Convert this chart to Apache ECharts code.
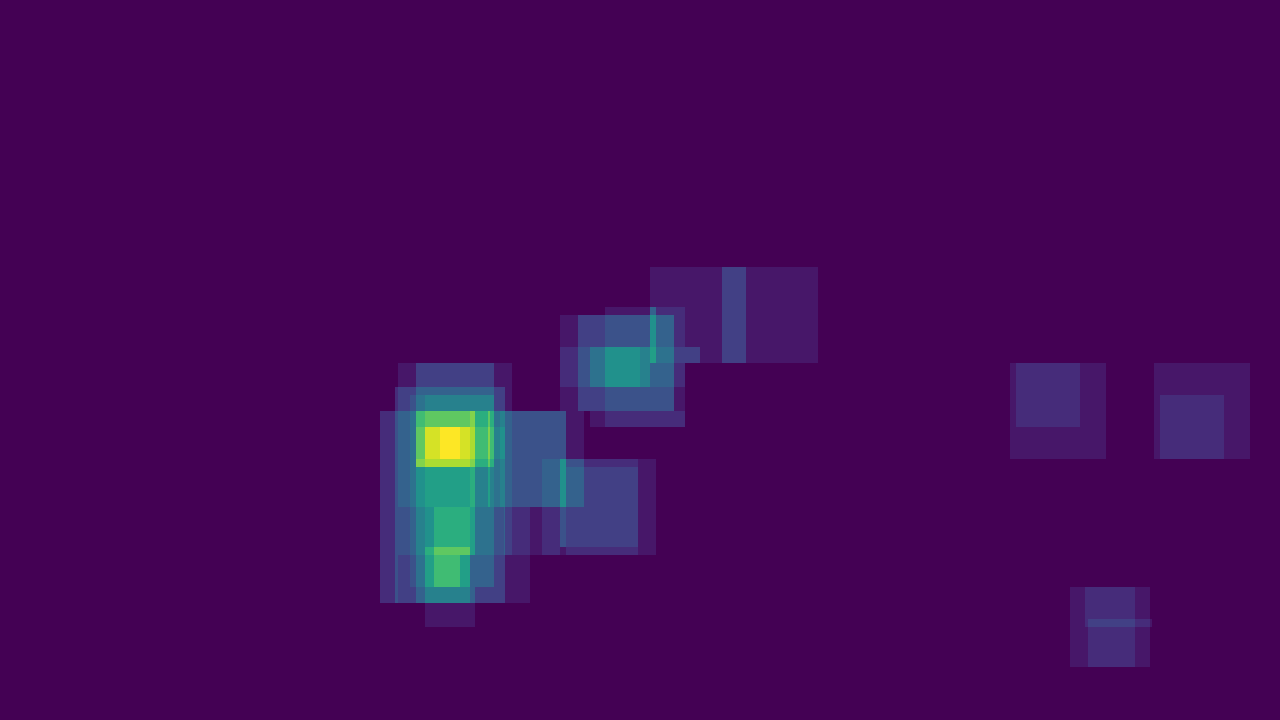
<!DOCTYPE html>
<html><head><meta charset="utf-8">
<script src="https://cdn.jsdelivr.net/npm/echarts@6/dist/echarts.min.js"></script>
<style>html,body{margin:0;padding:0;background:#440154;overflow:hidden}#c{width:1280px;height:720px}</style>
</head><body><div id="c"></div>
<script>
// Boxes (image coordinates) and their weights
const boxX0 = [398,416,395,425,410,380,500,512,494,416,416,425,440,488,470,470,416,434,425,425,425,380,380,425,
               542,566,566,560,566,504,
               650,722,605,560,578,560,685,590,605,650,590,
               1010,1016,1154,1160,1070,1085,1088,1088];
const boxX1 = [512,494,505,494,425,566,584,566,512,470,505,470,460,490,494,475,470,470,475,470,460,530,398,475,
               656,638,638,566,584,560,
               818,746,685,674,674,685,700,650,640,656,685,
               1106,1080,1250,1224,1150,1135,1135,1152];
const boxY0 = [363,363,387,395,395,411,411,411,411,411,427,427,427,411,411,411,459,507,587,547,555,507,507,603,
               459,459,467,459,459,507,
               267,267,307,315,315,347,347,347,347,307,411,
               363,363,363,395,587,587,627,619];
const boxY1 = [555,467,603,587,587,507,507,507,507,467,459,459,459,507,467,555,603,587,603,555,587,603,603,627,
               555,555,547,547,507,555,
               363,363,427,411,411,387,363,387,387,363,427,
               459,427,459,459,667,627,667,627];
const boxW  = [1,2,2,2,1,2,1,1,1,3,1,2,1,2,1,3,2,2,2,2,2,1,1,1,
               1,1,1,3,1,1,
               1,2,1,1,2,1,2,2,1,3,1,
               1,1,1,1,1,1,1,1];
const valueMax = 16;

// accumulate box weights on the grid made by all box edges
const xs = Array.from(new Set(boxX0.concat(boxX1))).sort((a,b)=>a-b);
const ys = Array.from(new Set(boxY0.concat(boxY1))).sort((a,b)=>a-b);
const cells = [];
for (let i = 0; i < xs.length - 1; i++) {
  for (let j = 0; j < ys.length - 1; j++) {
    const cx = (xs[i] + xs[i+1]) / 2, cy = (ys[j] + ys[j+1]) / 2;
    let v = 0;
    for (let k = 0; k < boxX0.length; k++) {
      if (cx > boxX0[k] && cx < boxX1[k] && cy > boxY0[k] && cy < boxY1[k]) v += boxW[k];
    }
    if (v > 0) cells.push([xs[i], xs[i+1], ys[j], ys[j+1], Math.min(v, valueMax)]);
  }
}

const chart = echarts.init(document.getElementById('c'), null, {renderer: 'canvas'});
chart.setOption({
  backgroundColor: '#440154',
  animation: false,
  grid: {left: 0, right: 0, top: 0, bottom: 0},
  xAxis: {type: 'value', min: 0, max: 1280, show: false},
  yAxis: {type: 'value', min: 0, max: 720, inverse: true, show: false},
  visualMap: {
    show: false, type: 'continuous', dimension: 4, min: 0, max: valueMax,
    inRange: {color: ['#440154','#482475','#414487','#355f8d','#2a788e','#21918c','#22a884','#44bf70','#7ad151','#bddf26','#fde725']}
  },
  series: [{
    type: 'custom',
    data: cells,
    encode: {x: [0,1], y: [2,3]},
    renderItem: function (params, api) {
      const p0 = api.coord([api.value(0), api.value(2)]);
      const p1 = api.coord([api.value(1), api.value(3)]);
      return {
        type: 'rect',
        shape: {x: Math.min(p0[0], p1[0]), y: Math.min(p0[1], p1[1]), width: Math.abs(p1[0]-p0[0]), height: Math.abs(p1[1]-p0[1])},
        style: {fill: api.visual('color')}
      };
    }
  }]
});
</script>
</body></html>
